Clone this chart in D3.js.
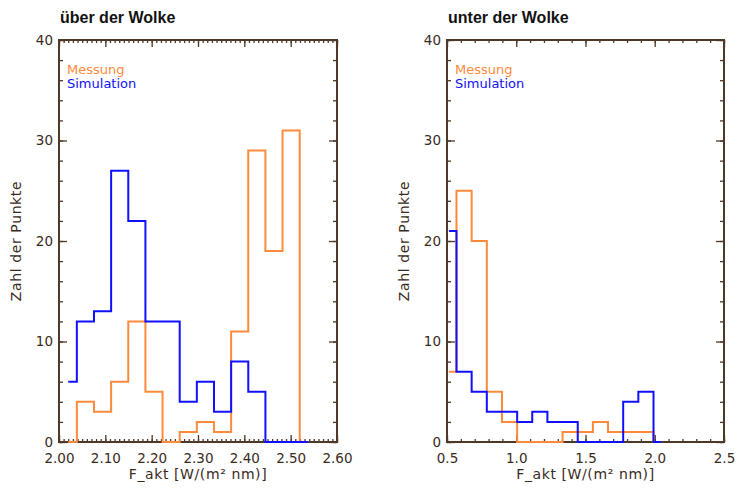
<!DOCTYPE html>
<html>
<head>
<meta charset="utf-8">
<script src="https://cdn.jsdelivr.net/npm/d3@7"></script>
<style>
  body { margin: 0; background: #fff; }
  .tick text { font-family: "DejaVu Sans", sans-serif; font-size: 13.5px; fill: #3a2a1c; }
  .lbl { font-family: "DejaVu Sans", sans-serif; font-size: 13px; fill: #3a2a1c; }
  .axlbl { font-family: "DejaVu Sans", sans-serif; font-size: 14px; letter-spacing: 0.6px; fill: #3a2a1c; }
  .title { font-family: "Liberation Sans", Arial, sans-serif; font-size: 16px; font-weight: bold; fill: #111; }
</style>
</head>
<body>
<script>
// bin centres and counts
var leftCenters = [2.020, 2.057, 2.094, 2.131, 2.168, 2.205, 2.242, 2.279, 2.316, 2.353, 2.390, 2.427, 2.464, 2.501, 2.538];
var leftMessung = [0, 4, 3, 6, 12, 5, 0, 1, 2, 1, 11, 29, 19, 31, 0];
var leftSimulation = [6, 12, 13, 27, 22, 12, 12, 4, 6, 3, 8, 5, 0, 0, 0];

var rightCenters = [0.514, 0.623, 0.733, 0.842, 0.952, 1.061, 1.170, 1.280, 1.389, 1.499, 1.608, 1.717, 1.827, 1.936, 2.046];
var rightMessung = [7, 25, 20, 5, 2, 0, 0, 0, 1, 1, 2, 1, 1, 1, 0];
var rightSimulation = [21, 7, 5, 3, 3, 2, 3, 2, 2, 0, 0, 0, 4, 5, 0];

var leftXTicks = [2.0, 2.1, 2.2, 2.3, 2.4, 2.5, 2.6];
var rightXTicks = [0.5, 1.0, 1.5, 2.0, 2.5];
var yTicks = [0, 10, 20, 30, 40];

var colMessung = "#ff8a3c", colSimulation = "#1010ff", axisCol = "#4e3828";

var width = 738, height = 488;
var svg = d3.select("body").append("svg")
    .attr("width", width)
    .attr("height", height);

var panels = [
  {title: "über der Wolke", x0: 59, x1: 337, domain: [2.0, 2.6], ticks: leftXTicks, minorStep: 0.01, fmt: d3.format(".2f"),
   centers: leftCenters, mess: leftMessung, sim: leftSimulation},
  {title: "unter der Wolke", x0: 447, x1: 724, domain: [0.5, 2.5], ticks: rightXTicks, minorStep: 0.1, fmt: d3.format(".1f"),
   centers: rightCenters, mess: rightMessung, sim: rightSimulation}
];

var plotTop = 40, plotBottom = 442;
var y = d3.scaleLinear().domain([0, 40]).range([plotBottom, plotTop]);
var yMinor = d3.range(0, 40.001, 2);

panels.forEach(function(p) {
    var x = d3.scaleLinear().domain(p.domain).range([p.x0, p.x1]);
    var minor = d3.range(p.domain[0], p.domain[1] + p.minorStep / 2, p.minorStep);
    var g = svg.append("g");

    // minor ticks
    g.append("g").attr("transform", "translate(0," + plotBottom + ")")
        .call(d3.axisBottom(x).tickValues(minor).tickSize(-3).tickFormat(""));
    g.append("g").attr("transform", "translate(0," + plotTop + ")")
        .call(d3.axisTop(x).tickValues(minor).tickSize(-3).tickFormat(""));
    g.append("g").attr("transform", "translate(" + p.x0 + ",0)")
        .call(d3.axisLeft(y).tickValues(yMinor).tickSize(-4).tickFormat(""));
    g.append("g").attr("transform", "translate(" + p.x1 + ",0)")
        .call(d3.axisRight(y).tickValues(yMinor).tickSize(-4).tickFormat(""));

    // major ticks
    g.append("g").attr("transform", "translate(0," + plotBottom + ")")
        .call(d3.axisBottom(x).tickValues(p.ticks).tickSize(-7).tickPadding(11).tickFormat(p.fmt));
    g.append("g").attr("transform", "translate(0," + plotTop + ")")
        .call(d3.axisTop(x).tickValues(p.ticks).tickSize(-7).tickFormat(""));
    g.append("g").attr("transform", "translate(" + p.x0 + ",0)")
        .call(d3.axisLeft(y).tickValues(yTicks).tickSize(-8).tickPadding(6));
    g.append("g").attr("transform", "translate(" + p.x1 + ",0)")
        .call(d3.axisRight(y).tickValues(yTicks).tickSize(-8).tickFormat(""));

    g.selectAll(".domain").remove();
    g.selectAll(".tick line").attr("stroke", axisCol).attr("stroke-width", 1.3);
    g.selectAll(".tick text").attr("fill", "#3a2a1c");

    g.append("rect")
        .attr("x", p.x0).attr("y", plotTop)
        .attr("width", p.x1 - p.x0).attr("height", plotBottom - plotTop)
        .attr("fill", "none").attr("stroke", axisCol).attr("stroke-width", 2);

    var line = d3.line().curve(d3.curveStep)
        .x(function(d) { return x(d[0]); })
        .y(function(d) { return y(d[1]); });

    g.append("path")
        .attr("d", line(d3.zip(p.centers, p.mess)))
        .attr("fill", "none").attr("stroke", colMessung).attr("stroke-width", 2);
    g.append("path")
        .attr("d", line(d3.zip(p.centers, p.sim)))
        .attr("fill", "none").attr("stroke", colSimulation).attr("stroke-width", 2);

    // titles and labels
    svg.append("text").attr("class", "title")
        .attr("x", p.x0 + 1).attr("y", 23).text(p.title);

    svg.append("text").attr("class", "lbl")
        .attr("x", p.x0 + 8).attr("y", 74)
        .style("fill", colMessung).text("Messung");
    svg.append("text").attr("class", "lbl")
        .attr("x", p.x0 + 8).attr("y", 88)
        .style("fill", colSimulation).text("Simulation");

    svg.append("text").attr("class", "axlbl")
        .attr("x", (p.x0 + p.x1) / 2).attr("y", 479)
        .attr("text-anchor", "middle")
        .text("F_akt [W/(m² nm)]");

    svg.append("text").attr("class", "axlbl")
        .attr("transform", "translate(" + (p.x0 - 38) + "," + ((plotTop + plotBottom) / 2) + ") rotate(-90)")
        .attr("text-anchor", "middle")
        .text("Zahl der Punkte");
});
</script>
</body>
</html>
